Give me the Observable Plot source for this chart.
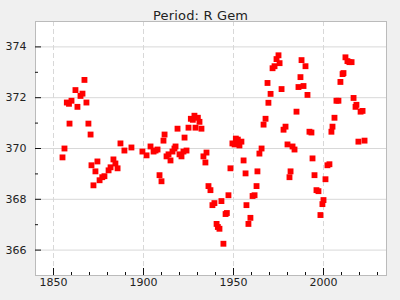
<!DOCTYPE html>
<html><head><meta charset="utf-8">
<script src="https://cdn.jsdelivr.net/npm/d3@7"></script>
<script src="https://cdn.jsdelivr.net/npm/@observablehq/plot@0.6"></script>
<style>html,body{margin:0;padding:0;background:#f0f0f0;}</style>
</head><body><div id="chart"></div>
<script>
const title = "Period: R Gem";
const years = [1855.0,1856.1,1857.4,1858.6,1858.9,1860.0,1862.2,1863.3,1865.0,1866.1,1867.2,1868.3,1869.4,1870.6,1871.1,1872.2,1873.3,1874.4,1875.6,1877.1,1878.3,1880.6,1881.7,1883.3,1884.4,1885.6,1887.2,1889.4,1893.3,1899.4,1901.7,1903.9,1905.6,1906.7,1907.8,1908.9,1910.0,1911.1,1911.7,1912.8,1913.9,1915.0,1916.1,1917.2,1917.8,1918.9,1920.0,1921.1,1922.2,1922.8,1923.9,1925.0,1926.3,1927.4,1928.3,1928.9,1930.2,1931.1,1932.2,1933.3,1934.4,1935.0,1936.1,1937.2,1938.3,1939.4,1940.6,1941.3,1942.2,1943.3,1944.4,1945.6,1946.3,1947.2,1948.3,1949.4,1950.6,1951.3,1951.7,1952.4,1953.3,1954.4,1955.6,1956.7,1957.2,1958.3,1959.4,1960.6,1961.7,1962.8,1963.3,1964.4,1965.6,1966.7,1967.8,1968.9,1969.4,1970.6,1971.7,1972.8,1973.9,1975.0,1975.6,1976.7,1977.8,1978.9,1980.0,1981.1,1981.7,1982.8,1983.9,1985.0,1986.1,1987.2,1987.8,1988.9,1990.0,1991.1,1992.2,1993.3,1993.9,1995.0,1996.1,1997.2,1998.3,1999.4,2000.0,2001.1,2002.2,2003.3,2004.4,2005.0,2006.1,2007.2,2008.3,2009.4,2010.6,2011.1,2012.2,2013.3,2014.4,2015.6,2016.7,2017.8,2018.3,2019.4,2020.6,2021.7,2022.8];
const periods = [369.65,370.0,371.81,371.76,370.98,371.88,372.30,371.64,372.07,372.16,372.70,371.81,370.98,370.55,369.34,368.55,369.10,369.49,368.75,368.87,368.91,369.14,369.26,369.57,369.41,369.22,370.20,369.92,370.04,369.88,369.73,370.08,369.88,369.92,369.96,368.95,368.71,370.31,370.55,369.69,369.77,369.53,369.88,370.0,370.08,370.78,369.77,369.69,369.88,370.43,369.92,370.82,371.17,371.13,371.29,370.82,371.21,371.05,370.78,369.69,369.45,369.84,368.52,368.36,367.77,367.85,367.03,366.91,366.84,367.93,366.25,367.42,367.46,368.16,369.22,370.20,370.16,370.39,370.20,370.35,370.12,370.27,369.53,369.02,367.77,367.03,367.27,368.13,368.16,368.52,369.10,369.80,370.0,370.94,371.17,372.58,371.80,372.15,373.16,373.24,373.52,373.67,373.36,372.34,370.74,370.86,370.16,368.87,369.10,370.08,369.96,371.45,372.42,372.81,373.48,372.46,373.24,372.11,370.66,370.63,369.61,368.95,368.36,368.32,367.38,367.81,367.97,368.79,369.34,369.38,370.66,370.86,371.21,371.88,371.88,372.62,372.93,372.97,373.59,373.44,373.40,373.40,371.99,371.64,371.72,370.27,371.45,371.48,370.31];
const xMajor = [1850, 1900, 1950, 2000];
const xMinor = [1860, 1870, 1880, 1890, 1910, 1920, 1930, 1940, 1960, 1970, 1980, 1990, 2010, 2020, 2030];
const yMajor = [366, 368, 370, 372, 374];
const yMinor = [367, 369, 371, 373];

const data = years.map((y, i) => ({year: y, period: periods[i]}));
const W = 400, H = 300, mL = 35, mR = 14, mT = 21, mB = 25;
const fw = W - mL - mR, fh = H - mT - mB;

const chart = Plot.plot({
  width: W, height: H,
  marginLeft: mL, marginRight: mR, marginTop: mT, marginBottom: mB,
  style: {fontFamily: "DejaVu Sans", fontSize: "11px", background: "#f0f0f0", color: "#222"},
  x: {domain: [1840, 2035]},
  y: {domain: [365, 375]},
  marks: [
    Plot.frame({fill: "white"}),
    Plot.gridY(yMajor, {stroke: "#d8d8d8", strokeOpacity: 1}),
    Plot.gridX(xMajor, {stroke: "#d8d8d8", strokeOpacity: 1, strokeDasharray: "5,3"}),
    Plot.frame({stroke: "#bbb"}),
    Plot.ruleX(xMajor, {insetTop: fh - 7, stroke: "#111"}),
    Plot.ruleX(xMinor, {insetTop: fh - 3, stroke: "#111"}),
    Plot.ruleY(yMajor, {insetRight: fw - 6, stroke: "#111"}),
    Plot.ruleY(yMinor, {insetRight: fw - 3, stroke: "#111"}),
    Plot.axisX(xMajor, {tickSize: 0, tickPadding: 3, tickFormat: d => String(d), label: null}),
    Plot.axisY(yMajor, {tickSize: 0, tickPadding: 9, label: null}),
    Plot.dot(data, {x: "year", y: "period", symbol: "square", r: 3.3, fill: "#ff0000", stroke: "none"}),
    Plot.text([title], {frameAnchor: "top", dx: (W / 2) - (mL + fw / 2), dy: -11, fontSize: 13, fill: "#222", className: "chart-title"})
  ]
});
document.getElementById("chart").appendChild(chart);
const t = chart.querySelector(".chart-title text");
if (t) { t.setAttribute("textLength", 95); t.setAttribute("lengthAdjust", "spacing"); }
</script>
</body></html>
